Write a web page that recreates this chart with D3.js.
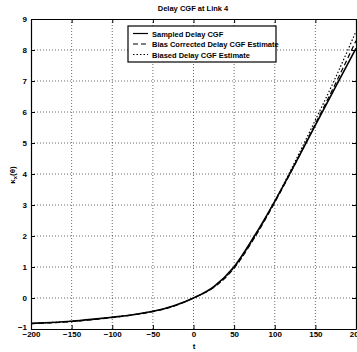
<!DOCTYPE html>
<html>
<head>
<meta charset="utf-8">
<script src="https://cdn.jsdelivr.net/npm/d3@7"></script>
<style>
	body { margin: 0; background: #fff; }
	text { font-family: "Liberation Sans", Arial, sans-serif; fill: #000; }
</style>
</head>
<body>
<div id="chart"></div>
<script>
// values
var thetas = [-200, -175, -150, -125, -100, -75, -50, -25, 0, 25, 50, 75, 100, 125, 150, 175, 200];
var sampledCgf = [-0.82, -0.79, -0.75, -0.69, -0.62, -0.54, -0.43, -0.26, 0, 0.37, 1.01, 2.0, 3.12, 4.33, 5.58, 6.82, 8.05];
var correctedCgf = [-0.83, -0.8, -0.76, -0.7, -0.63, -0.55, -0.44, -0.27, 0, 0.34, 0.96, 1.94, 3.08, 4.32, 5.62, 6.93, 8.3];
var biasedCgf = [-0.82, -0.79, -0.75, -0.69, -0.62, -0.54, -0.43, -0.26, 0, 0.35, 0.98, 1.96, 3.12, 4.4, 5.74, 7.12, 8.6];
var xTicks = [-200, -150, -100, -50, 0, 50, 100, 150, 200];
var yTicks = [-1, 0, 1, 2, 3, 4, 5, 6, 7, 8, 9];
var seriesNames = ["Sampled Delay CGF", "Bias Corrected Delay CGF Estimate", "Biased Delay CGF Estimate"];
var seriesDash = ["none", "5,3", "1.5,2"];

var size = { width: 357, height: 352, margin: { left: 31, right: 1, top: 19, bottom: 23 } };

var view = function()	{
	var innerW = size.width - size.margin.left - size.margin.right;
	var innerH = size.height - size.margin.top - size.margin.bottom;

	var svg = d3.select("#chart")
	.append("svg")
	.attr("width", size.width)
	.attr("height", size.height)
	.style("display", "block");

	var g = svg.append("g")
	.attr("transform", "translate(" + size.margin.left + ", " + size.margin.top + ")");

	var x = d3.scaleLinear().domain([-200, 200]).range([0, innerW]);
	var y = d3.scaleLinear().domain([-1, 9]).range([innerH, 0]);

	// dotted grid
	g.selectAll(".vgrid")
	.data(xTicks.slice(1, -1))
	.enter().append("line")
	.attr("x1", function(_d) { return x(_d); })
	.attr("x2", function(_d) { return x(_d); })
	.attr("y1", 0)
	.attr("y2", innerH)
	.style("stroke", "#444")
	.style("stroke-width", 0.8)
	.style("stroke-dasharray", "1,2");

	g.selectAll(".hgrid")
	.data(yTicks.slice(1, -1))
	.enter().append("line")
	.attr("x1", 0)
	.attr("x2", innerW)
	.attr("y1", function(_d) { return y(_d); })
	.attr("y2", function(_d) { return y(_d); })
	.style("stroke", "#444")
	.style("stroke-width", 0.8)
	.style("stroke-dasharray", "1,2");

	// axes, ticks inward
	var xAxis = g.append("g")
	.attr("transform", "translate(0," + innerH + ")")
	.call(d3.axisBottom(x).tickValues(xTicks).tickSizeInner(-4).tickSizeOuter(0).tickPadding(2));
	var xAxisTop = g.append("g")
	.call(d3.axisTop(x).tickValues(xTicks).tickSizeInner(-4).tickSizeOuter(0).tickFormat(""));
	var yAxis = g.append("g")
	.call(d3.axisLeft(y).tickValues(yTicks).tickSizeInner(-4).tickSizeOuter(0).tickPadding(4));
	var yAxisRight = g.append("g")
	.attr("transform", "translate(" + innerW + ",0)")
	.call(d3.axisRight(y).tickValues(yTicks).tickSizeInner(-4).tickSizeOuter(0).tickFormat(""));

	[xAxis, xAxisTop, yAxis, yAxisRight].forEach(function(_a) {
		_a.select(".domain").style("stroke", "#000").style("stroke-width", 1.2);
		_a.selectAll(".tick line").style("stroke", "#000");
		_a.selectAll("text")
		.style("font-size", "8px")
		.style("font-weight", "bold")
		.style("fill", "#000");
	});

	// the -1 label sits a touch above its tick, as in the reference
	yAxis.selectAll(".tick text")
	.filter(function(_d) { return _d === -1; })
	.attr("dy", "0.05em");

	// curves
	var allSeries = [sampledCgf, correctedCgf, biasedCgf];
	var line = d3.line()
	.x(function(_d, i) { return x(thetas[i]); })
	.y(function(_d) { return y(_d); })
	.curve(d3.curveMonotoneX);

	g.selectAll(".curve")
	.data(allSeries)
	.enter().append("path")
	.attr("class", "curve")
	.attr("d", line)
	.style("fill", "none")
	.style("stroke", "#000")
	.style("stroke-width", function(_d, i) { return i === 0 ? 1.6 : 1.2; })
	.style("stroke-dasharray", function(_d, i) { return seriesDash[i]; });

	// legend
	var legend = svg.append("g")
	.attr("transform", "translate(128, 26)");
	legend.append("rect")
	.attr("width", 148)
	.attr("height", 36)
	.style("fill", "#fff")
	.style("stroke", "#000")
	.style("stroke-width", 1.2);

	var legendGroup = legend.selectAll(".legendGroup")
	.data(seriesNames)
	.enter().append("g")
	.attr("transform", function(_d, i) { return "translate(0," + (7.5 + i * 10.5) + ")"; });

	legendGroup.append("line")
	.attr("x1", 5)
	.attr("x2", 20)
	.style("stroke", "#000")
	.style("stroke-width", 1.2)
	.style("stroke-dasharray", function(_d, i) { return seriesDash[i]; });

	legendGroup.append("text")
	.attr("x", 24)
	.attr("y", 3)
	.style("font-size", "7.5px")
	.style("font-weight", "bold")
	.text(function(_d) { return _d; });

	// title and labels
	svg.append("text")
	.attr("x", 193)
	.attr("y", 11)
	.attr("text-anchor", "middle")
	.style("font-size", "7.5px")
	.style("font-weight", "bold")
	.text("Delay CGF at Link 4");

	svg.append("text")
	.attr("x", 194)
	.attr("y", 349)
	.attr("text-anchor", "middle")
	.style("font-size", "8px")
	.style("font-weight", "bold")
	.text("t");

	var ylab = svg.append("text")
	.attr("transform", "translate(15, 175) rotate(-90)")
	.attr("text-anchor", "middle")
	.style("font-size", "8px")
	.style("font-weight", "bold");
	ylab.append("tspan").text("κ");
	ylab.append("tspan").attr("dy", 2).style("font-size", "6px").text("x");
	ylab.append("tspan").attr("dy", -2).text("(θ)");
}

view();
</script>
</body>
</html>
